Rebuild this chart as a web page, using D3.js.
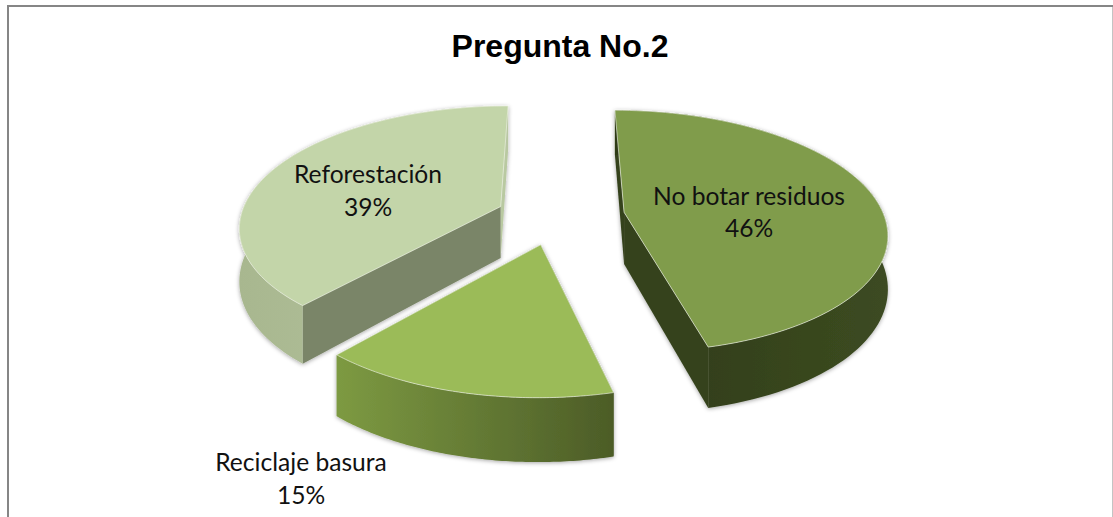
<!DOCTYPE html>
<html><head><meta charset="utf-8">
<script src="https://cdn.jsdelivr.net/npm/d3@7/dist/d3.min.js"></script>
<style>html,body{margin:0;padding:0;background:#fff;overflow:hidden}svg{display:block}</style>
</head><body><div id="chart"></div>
<script>
const chartTitle = "Pregunta No.2";
const categories = ["No botar residuos", "Reciclaje basura", "Reforestación"];
const values = [46.2, 15.2, 38.6];
const topColors = ["#809c4c", "#9bbb59", "#c3d5a9"];
const startWallColors = ["#36431d", "#4a5a26", "#7a8567"];
const endWallColors = ["#36431d", "#7a9740", "#b9c9a1"];
const outerGradients = [["#2f3b18", "#3c4b21"], ["#4c5c27", "#7d9a42"], ["#a8b78f", "#b9c7a3"]];
const labelPositions = [[749, 205, 237], [301, 471, 504], [368, 183, 216]];
const explodes = [0.265, 0.24, 0.23];

const W = 1113, H = 517;
const cx = 556, cy = 216, rx = 260, ry = 119, persp = 0.156, height = 52;

const svg = d3.select("#chart").append("svg").attr("width", W).attr("height", H);
const defs = svg.append("defs");
const f = defs.append("filter").attr("id", "sh").attr("x", "-10%").attr("y", "-10%").attr("width", "120%").attr("height", "120%");
f.append("feDropShadow").attr("dx", 0).attr("dy", 1).attr("stdDeviation", 2).attr("flood-color", "#000").attr("flood-opacity", 0.35);

// frame
svg.append("path").attr("d", `M8,${H}V6H1113`).attr("fill", "none").attr("stroke", "#868686").attr("stroke-width", 2);
svg.append("line").attr("x1", 1112.5).attr("x2", 1112.5).attr("y1", 7).attr("y2", H).attr("stroke", "#c4c4c4").attr("stroke-width", 1);

svg.append("text").attr("x", 560).attr("y", 57).attr("text-anchor", "middle")
  .attr("font-family", "Liberation Sans").attr("font-weight", "bold").attr("font-size", 32).attr("fill", "#000").text(chartTitle);

const xs = d3.scaleLinear().domain([-1, 1]).range([cx - rx, cx + rx]);
const ys = d3.scaleLinear().domain([-1, 1]).range([cy + ry, cy - ry]);
const pie = d3.pie().sort(null).value(d => d).startAngle(0).endAngle(2 * Math.PI);
const arcs = pie(values);
const pct = d3.format(".0f");

function project(u, v, drop) {
  const w = 1 + persp * v;
  return [xs(u / w), ys(v / w) + (drop ? height / w : 0)];
}
const line = d3.line();

arcs.forEach((a, i) => {
  const mid = (a.startAngle + a.endAngle) / 2;
  const ou = explodes[i] * Math.sin(mid), ov = explodes[i] * Math.cos(mid);
  const apex = d => project(ou, ov, d);
  const rim = (t, d) => project(ou + Math.sin(t), ov + Math.cos(t), d);
  const thetas = d3.range(0, 91).map(k => a.startAngle + (a.endAngle - a.startAngle) * k / 90);
  const topRim = thetas.map(t => rim(t, false));
  const botRim = thetas.map(t => rim(t, true));

  const ext = d3.extent(botRim, p => p[0]);
  const gid = "g" + i;
  const lg = defs.append("linearGradient").attr("id", gid).attr("gradientUnits", "userSpaceOnUse")
    .attr("x1", ext[0]).attr("x2", ext[1]).attr("y1", 0).attr("y2", 0);
  lg.append("stop").attr("offset", 0).attr("stop-color", outerGradients[i][i === 1 ? 1 : 0]);
  lg.append("stop").attr("offset", 1).attr("stop-color", outerGradients[i][i === 1 ? 0 : 1]);

  const g = svg.append("g").attr("filter", "url(#sh)");
  g.append("path").attr("fill", startWallColors[i])
    .attr("d", line([rim(a.startAngle, false), apex(false), apex(true), rim(a.startAngle, true)]) + "Z");
  g.append("path").attr("fill", endWallColors[i])
    .attr("d", line([rim(a.endAngle, false), apex(false), apex(true), rim(a.endAngle, true)]) + "Z");
  g.append("path").attr("fill", `url(#${gid})`)
    .attr("d", line(topRim.concat(botRim.slice().reverse())) + "Z");
  g.append("path").attr("fill", topColors[i])
    .attr("stroke", "#eef2e4").attr("stroke-width", 0.8).attr("stroke-opacity", 0.8)
    .attr("d", line([apex(false)].concat(topRim)) + "Z");
});

categories.forEach((c, i) => {
  const t = svg.append("text").attr("text-anchor", "middle").attr("font-family", "Lato").attr("font-size", 24.6).attr("fill", "#111");
  t.append("tspan").attr("x", labelPositions[i][0]).attr("y", labelPositions[i][1]).text(c);
  t.append("tspan").attr("x", labelPositions[i][0]).attr("y", labelPositions[i][2]).text(pct(values[i]) + "%");
});
</script></body></html>
